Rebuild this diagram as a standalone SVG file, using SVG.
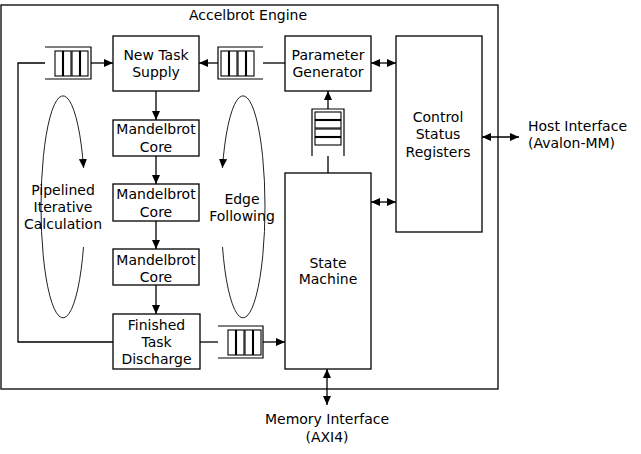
<svg xmlns="http://www.w3.org/2000/svg" width="641" height="454" viewBox="0 0 641 454">
<defs>
<marker id="ah" markerWidth="9" markerHeight="8" refX="9" refY="4" orient="auto-start-reverse" markerUnits="userSpaceOnUse">
<path d="M0,0 L9,4 L0,8 z" fill="#000"/>
</marker>
<style>
.box{fill:#fff;stroke:#000;stroke-width:1.3}
.ln{fill:none;stroke:#000;stroke-width:1.3}
.q{fill:none;stroke:#000;stroke-width:1.2}
.cell{fill:#fff;stroke:#000;stroke-width:1.1}
.loop{fill:none;stroke:#222;stroke-width:1}
text{font-family:"DejaVu Sans","Noto Sans",sans-serif;font-size:14px;fill:#000;text-anchor:middle}
.l{text-anchor:start}
</style>
</defs>
<rect width="641" height="454" fill="#fff"/>
<g id="engine">
<rect x="1" y="5" width="497" height="384" fill="none" stroke="#000" stroke-width="1.3"/>
<text x="248" y="20">Accelbrot Engine</text>
</g>
<g id="loops">
<path class="loop" d="M83.5,247 A22,111 0 1 1 83.6,168" marker-end="url(#ah)"/>
<path class="loop" d="M222.5,247 A22,111 0 1 0 222.4,168" marker-end="url(#ah)"/>
<text x="63" y="195">Pipelined</text>
<text x="63" y="212">Iterative</text>
<text x="63" y="229">Calculation</text>
<text x="242" y="204">Edge</text>
<text x="242" y="221">Following</text>
</g>
<g id="connectors">
<polyline class="ln" points="45,63 18,63 18,342 113,342"/>
<line class="ln" x1="91" y1="63" x2="113" y2="63" marker-end="url(#ah)"/>
<line class="ln" x1="285" y1="63" x2="263" y2="63"/>
<line class="ln" x1="218" y1="63" x2="199" y2="63" marker-end="url(#ah)"/>
<line class="ln" x1="156" y1="91" x2="156" y2="120" marker-end="url(#ah)"/>
<line class="ln" x1="156" y1="156" x2="156" y2="184" marker-end="url(#ah)"/>
<line class="ln" x1="156" y1="221" x2="156" y2="249" marker-end="url(#ah)"/>
<line class="ln" x1="156" y1="285" x2="156" y2="314" marker-end="url(#ah)"/>
<line class="ln" x1="200" y1="342" x2="218" y2="342"/>
<line class="ln" x1="263" y1="342" x2="285" y2="342" marker-end="url(#ah)"/>
<line class="ln" x1="328" y1="173" x2="328" y2="156"/>
<line class="ln" x1="328" y1="109" x2="328" y2="91" marker-end="url(#ah)"/>
<line class="ln" x1="371" y1="63" x2="396" y2="63" marker-start="url(#ah)" marker-end="url(#ah)"/>
<line class="ln" x1="371" y1="202" x2="396" y2="202" marker-start="url(#ah)" marker-end="url(#ah)"/>
<line class="ln" x1="482" y1="137" x2="519" y2="137" marker-start="url(#ah)" marker-end="url(#ah)"/>
<line class="ln" x1="327" y1="369" x2="327" y2="405" marker-start="url(#ah)" marker-end="url(#ah)"/>
</g>
<g id="queue-in">
<polyline class="q" points="45,47 91,47 91,79 45,79"/>
<rect class="cell" x="55" y="51" width="7.5" height="25"/>
<rect class="cell" x="63.5" y="51" width="7.5" height="25"/>
<rect class="cell" x="72" y="51" width="7.5" height="25"/>
<rect class="cell" x="80.5" y="51" width="7.5" height="25"/>
</g>
<g id="queue-param">
<polyline class="q" points="263,47 218,47 218,79 263,79"/>
<rect class="cell" x="221" y="51" width="7.5" height="25"/>
<rect class="cell" x="229.5" y="51" width="7.5" height="25"/>
<rect class="cell" x="238" y="51" width="7.5" height="25"/>
<rect class="cell" x="246.5" y="51" width="7.5" height="25"/>
</g>
<g id="queue-state">
<polyline class="q" points="312,156 312,109 344,109 344,156"/>
<rect class="cell" x="315" y="112" width="26" height="7.5"/>
<rect class="cell" x="315" y="120.5" width="26" height="7.5"/>
<rect class="cell" x="315" y="129" width="26" height="7.5"/>
<rect class="cell" x="315" y="137.5" width="26" height="7.5"/>
</g>
<g id="queue-out">
<polyline class="q" points="218,326 263,326 263,358 218,358"/>
<rect class="cell" x="228" y="330" width="7.5" height="25"/>
<rect class="cell" x="236.5" y="330" width="7.5" height="25"/>
<rect class="cell" x="245" y="330" width="7.5" height="25"/>
<rect class="cell" x="253.5" y="330" width="7.5" height="25"/>
</g>
<g id="new-task-supply">
<rect class="box" x="113" y="36" width="86" height="55"/>
<text x="156" y="60">New Task</text>
<text x="156" y="77">Supply</text>
</g>
<g id="core1">
<rect class="box" x="113" y="120" width="86" height="36"/>
<text x="156" y="134">Mandelbrot</text>
<text x="156" y="152">Core</text>
</g>
<g id="core2">
<rect class="box" x="113" y="184" width="86" height="37"/>
<text x="156" y="199">Mandelbrot</text>
<text x="156" y="217">Core</text>
</g>
<g id="core3">
<rect class="box" x="113" y="249" width="86" height="36"/>
<text x="156" y="265">Mandelbrot</text>
<text x="156" y="282">Core</text>
</g>
<g id="finished-task-discharge">
<rect class="box" x="113" y="314" width="87" height="55"/>
<text x="156.5" y="330">Finished</text>
<text x="156.5" y="347">Task</text>
<text x="156.5" y="364">Discharge</text>
</g>
<g id="parameter-generator">
<rect class="box" x="285" y="36" width="86" height="55"/>
<text x="328" y="60">Parameter</text>
<text x="328" y="77">Generator</text>
</g>
<g id="control-status-registers">
<rect class="box" x="396" y="36" width="86" height="196"/>
<text x="438" y="122">Control</text>
<text x="438" y="139">Status</text>
<text x="438" y="157">Registers</text>
</g>
<g id="state-machine">
<rect class="box" x="285" y="173" width="86" height="196"/>
<text x="328" y="268">State</text>
<text x="328" y="284">Machine</text>
</g>
<g id="host-interface">
<text class="l" x="528" y="131">Host Interface</text>
<text class="l" x="528" y="148">(Avalon-MM)</text>
</g>
<g id="memory-interface">
<text x="327" y="424">Memory Interface</text>
<text x="327" y="442">(AXI4)</text>
</g>
</svg>
